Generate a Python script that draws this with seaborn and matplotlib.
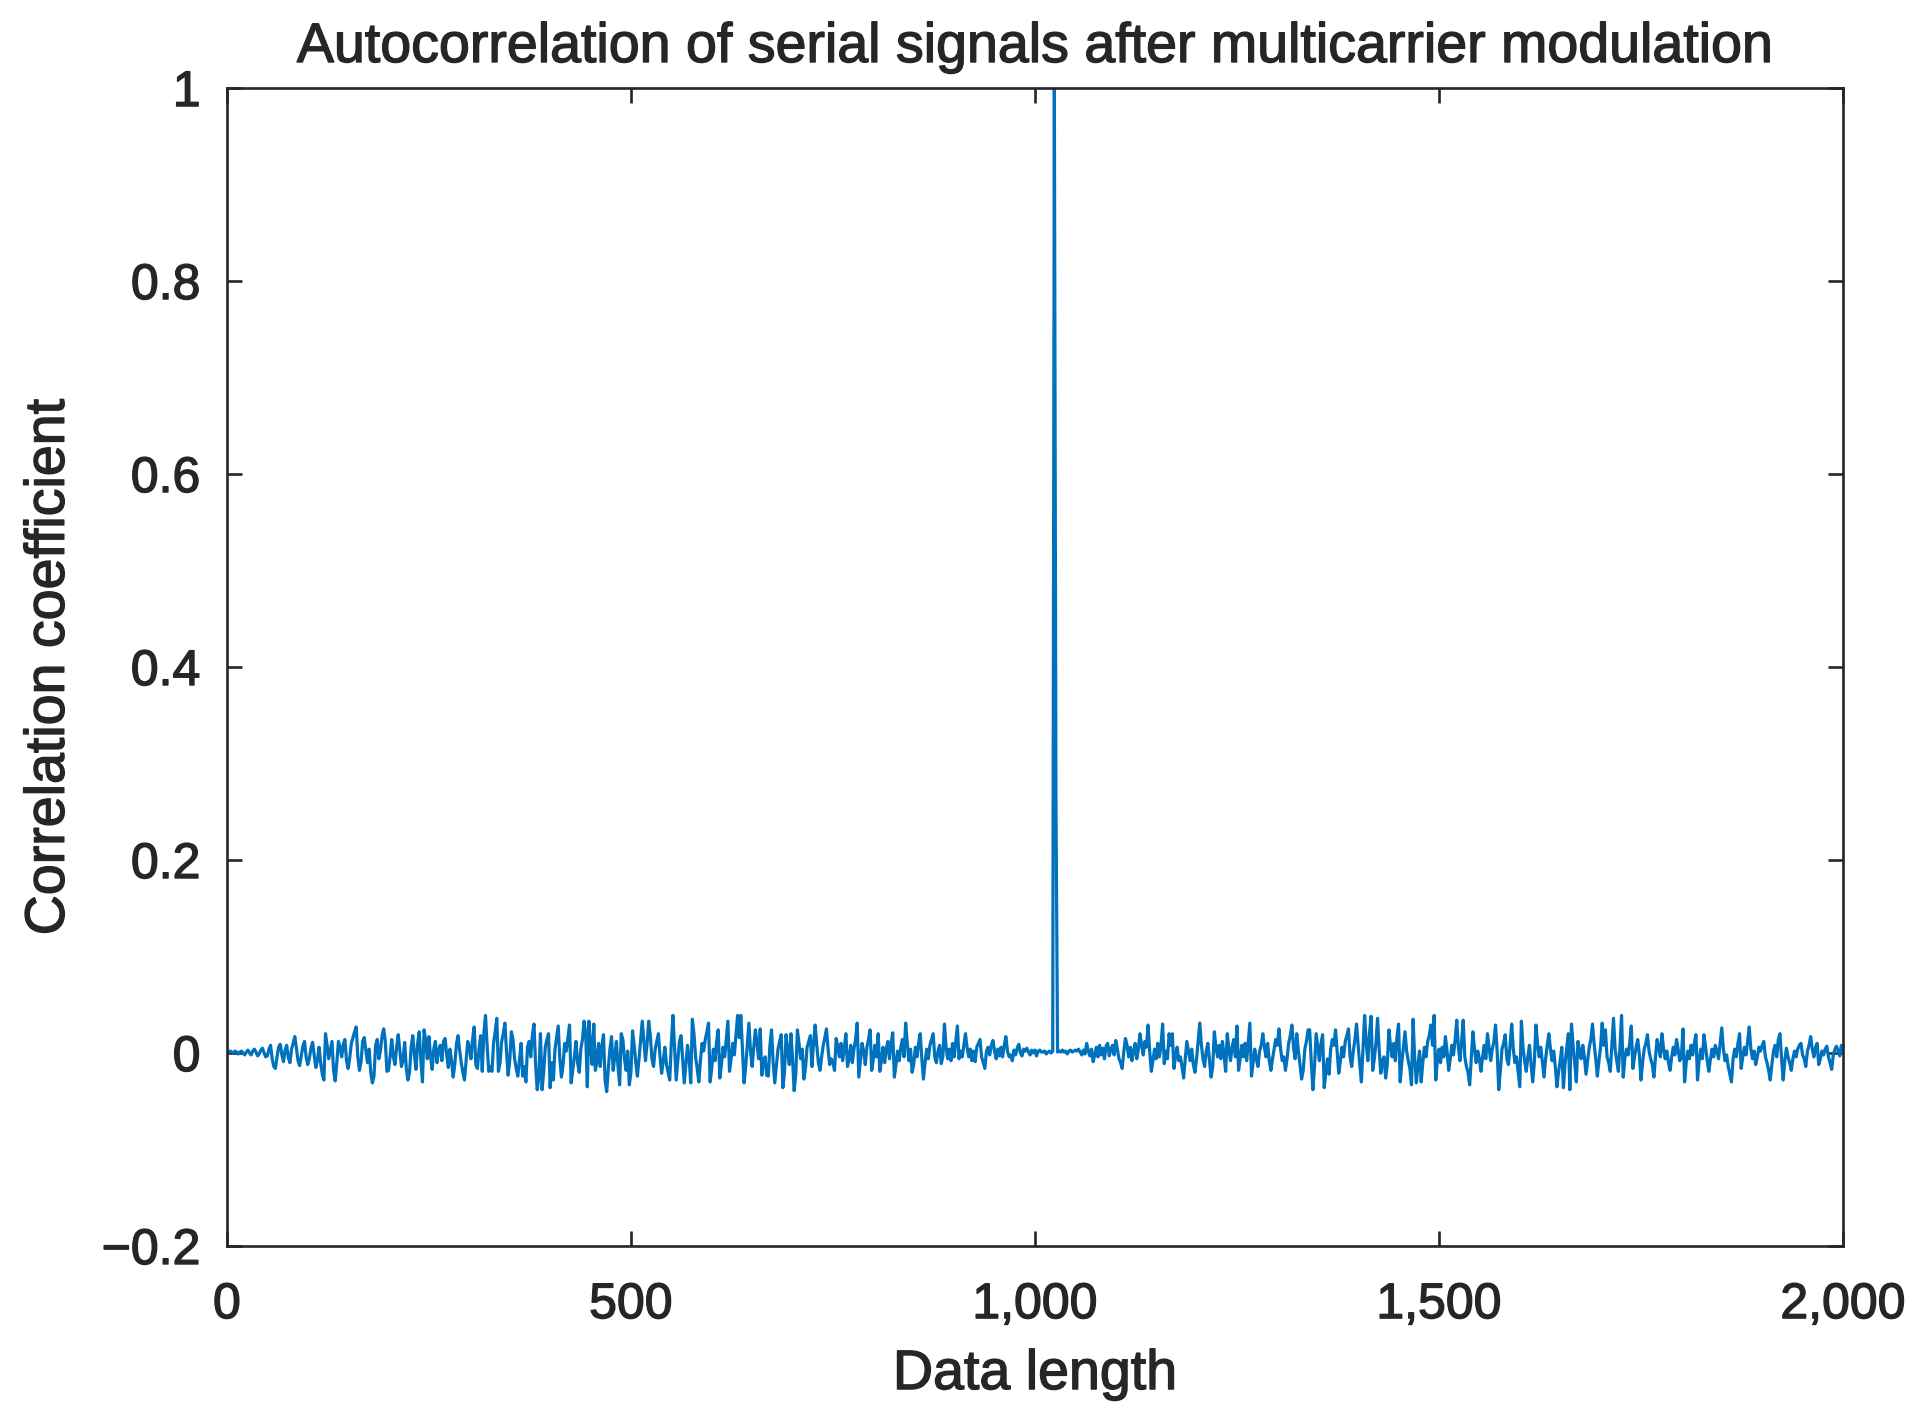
import numpy as np
import pandas as pd
import matplotlib
matplotlib.use("Agg")
import matplotlib.pyplot as plt
import matplotlib.patheffects as pe
import seaborn as sns

title = "Autocorrelation of serial signals after multicarrier modulation"
x_label = "Data length"
y_label = "Correlation coefficient"
x_ticks = [0, 500, 1000, 1500, 2000]
x_tick_labels = ["0", "500", "1,000", "1,500", "2,000"]
y_ticks = [-0.2, 0, 0.2, 0.4, 0.6, 0.8, 1.0]
y_tick_labels = ["\u22120.2", "0", "0.2", "0.4", "0.6", "0.8", "1"]
x_range = (0, 2000)
y_range = (-0.2, 1.0)
sample_step = 2  # every second lag index

# correlation coefficient (in thousandths), lags 0, 2, 4, ... 2046
corr_milli = [
    1, 1, 2, 1, 0, 2, 1, -1, 1, 2, 0, -2, 1, 3, 0, -2, 2, 4, 1, -3, -1, 3, 5, 0, -4,
    -3, 4, 8, -6, -14, -16, -4, 6, 9, -2, -9, 3, 8, -5, -10, 4, 10, 17, 5, -8, -13, -3, 7, 12, -4,
    -12, -6, 5, 11, -2, -15, -8, 6, -10, -22, -28, 20, 8, -6, 3, 12, -18, -29, -10, 12, 6, -4, 9, 14, -8,
    -16, -5, 10, 16, 22, 27, -4, -18, -9, 12, 16, 2, -10, 4, -20, -31, -24, 8, 14, -6, 2, 18, 25, 12, -19,
    -18, -3, 14, -4, -12, 6, 19, 3, -14, -7, 11, -16, -28, -20, 6, 18, -2, -17, 10, 22, -8, -30, 24, 13, -6,
    17, -4, -17, 4, 12, -10, 3, 8, -8, 12, 15, -2, -15, 4, -8, -25, -12, 9, 18, 3, -10, -20, -28, -8, 12,
    6, -6, 14, 27, -12, -16, 4, 18, -19, 21, 39, 8, -19, -14, -19, 10, 22, 36, -19, -10, 12, 20, 31, 2, -23,
    -8, 22, 14, -6, -16, -24, -8, 10, -24, -14, -30, 6, 12, -4, 18, 30, -12, -38, -26, 20, -38, -20, 6, 14, 20,
    -36, -10, -28, 4, 16, 28, -6, -25, -12, 10, 2, 16, 29, -31, -18, -4, 12, -10, -20, 4, 14, 33, 20, -35, 33,
    8, -12, 30, -18, -8, 10, -14, 6, 19, -28, -40, -16, 4, 17, -18, -4, 12, -14, -33, 20, 14, -6, -18, 2, -33,
    -20, 23, 8, -10, -24, -6, 14, 33, 12, -8, 10, 33, 18, -6, -14, 4, 12, 20, -4, -21, -8, 6, -12, -20, -28,
    10, 39, 6, -28, -8, 12, 18, -6, -31, -12, 8, -6, -31, 35, 20, -4, -16, -30, -8, 10, 2, 14, 22, 31, -30,
    -16, 4, -8, 12, 24, -26, -12, 6, -4, 14, 33, -19, -6, 10, -2, 18, 39, 16, 39, 4, -31, -14, 8, 31, 2,
    -14, 6, 24, 10, -6, 25, -23, -8, -4, -23, -24, 8, 24, -10, -31, -14, 4, 12, 19, -36, -20, 19, 2, -12, 20,
    -6, -39, -22, 24, 10, -6, 4, -27, -16, 6, 12, 18, -14, 10, 29, 8, -10, -18, -4, 8, 16, 25, 4, -12, -6,
    -10, -18, 15, 6, -4, 10, -8, 4, 20, -14, -6, 8, -10, 4, 14, 31, -25, -8, 10, 2, -12, 6, 14, 24, -18,
    -6, 8, -4, 20, -19, -8, 6, -10, 4, 12, -6, 10, 21, -25, -12, 2, -8, 6, 14, -4, 31, 10, -8, 4, -20,
    -12, 6, -4, 10, 20, -6, -27, -10, 4, -6, 8, 14, 20, -4, -10, 2, 8, -11, -4, 30, 6, -6, 4, -8, 10,
    -4, 12, 28, -6, 2, -4, 8, 20, 6, -4, 4, -8, 2, -9, 6, 10, 14, -4, -10, -16, 2, 6, -2, 8, 13,
    2, -6, 4, -3, 6, -4, 8, 17, 2, -4, -2, -8, 3, -2, 5, 9, 0, -3, 4, 2, 5, 1, -2, 3, 0,
    3, -3, 2, 3, 1, 1, 2, -1, 1, 2, 0, 2, 1000, 260, 1, 2, 1, 3, 1, 2, -1, 2, 3, 1, 2,
    3, 2, 4, 1, -2, 3, -1, 10, 2, -3, 4, -9, -2, 6, -4, 8, -2, 5, -6, 7, 10, -3, 4, 8, -2,
    13, 4, -6, -10, -16, 2, 15, 8, -4, 6, -8, 2, 10, -6, 4, 20, 8, -2, 12, 6, 29, 2, -19, -8, 4,
    -6, 10, -4, 8, 30, -11, 2, -6, 20, 8, 20, -16, -4, 6, -8, -4, -14, -26, -6, 12, 2, -8, 4, -12, -20,
    -6, 12, 31, 8, -6, -14, 2, 10, -8, -25, -14, 22, 6, -4, 8, -6, 12, -2, -19, 20, 4, -8, 6, 14, -4,
    28, -18, -6, 8, -4, 10, -8, 12, 31, -24, -10, 4, -6, -14, 2, 8, 20, 6, -4, 10, -8, -18, -6, 4, 14,
    8, 25, 4, -8, -4, -18, -6, 10, 18, 29, 6, -6, 20, 2, -12, -27, -18, 4, 12, 24, 24, -10, -38, -14, 20,
    6, -8, 10, 19, -36, -20, -6, -22, 4, 14, 8, 24, 2, -21, -8, 6, -4, 12, 18, 25, -4, -14, 2, 14, 30,
    8, -12, -30, 4, 39, 10, -8, 20, 38, -18, -6, 10, 36, 4, -21, -8, -4, -26, -12, 24, 8, -4, 10, -8, 16,
    30, -30, -10, 6, 22, 2, -8, -16, -33, 35, -6, -31, -12, 2, -30, -10, 6, -4, 12, 18, 29, 8, 39, -28, -8,
    4, -10, 6, -4, 17, 2, -18, -6, 8, -2, 14, 34, 6, -8, 12, 34, -4, -14, -20, -33, -6, 22, 4, -10, 2,
    -6, -19, -4, 8, -6, 20, 6, -8, 4, 12, 29, 2, -38, -18, 4, 10, 19, -6, -12, 8, 30, 4, -10, -4, -20,
    -35, 33, 6, -8, -19, -4, 8, -12, -30, -10, 29, 10, -4, 6, -10, -25, -6, 8, 20, 4, -8, 2, -14, -35, -20,
    -8, 6, -36, -12, 4, 20, -38, 30, 8, -10, -30, 12, 2, -6, 8, -4, -22, -8, 6, 14, 30, 10, -6, -24, -8,
    6, 31, 8, 24, -4, -10, -19, 8, 36, 4, -8, -19, 6, 39, -25, -6, 4, -2, 10, 28, -16, -4, 6, 14, -2,
    -28, -10, 4, 10, 19, 2, -6, -12, -25, -4, 14, 6, -4, 20, 4, -6, 2, -10, -18, -4, 6, -2, 14, 4, -8,
    -4, 25, -30, -10, 2, -6, 8, -2, 10, 19, -28, -8, 4, -6, 19, 6, -8, -19, -6, 4, -4, 8, 2, -6, 10,
    26, 4, -8, -2, -14, -22, -30, -6, 4, -4, 10, 20, -16, -4, 6, -2, 12, 27, 4, -6, 2, -12, -4, 6, 2,
    8, 12, -4, -10, -18, -28, -12, 2, 8, -4, 14, 20, -6, -28, -8, 5, -4, -10, -18, -6, 2, -4, 4, 8, 10,
    -2, -6, -14, 2, 8, 17, 4, -4, 6, 10, -12, -6, 2, -2, 4, 7, -4, -10, -17, -2, 4, 7, 2, -3, 8,
    6, -2, 4, -6, 3, 5, -2, 2, -4, 3, 1, -3, 2, 3, -1, 2, -2, 1, 2, 0, 1, -1, 1, 0,
]

df = pd.DataFrame({
    "lag": np.arange(len(corr_milli)) * sample_step,
    "corr": np.array(corr_milli, dtype=float) / 1000.0,
})

sns.set_theme(style="ticks")
plt.rcParams["font.family"] = ["Liberation Sans", "DejaVu Sans"]
text_color = "#262626"
plt.rcParams["text.color"] = text_color
plt.rcParams["axes.labelcolor"] = text_color
plt.rcParams["xtick.color"] = text_color
plt.rcParams["ytick.color"] = text_color

heavy = [pe.withStroke(linewidth=1.0, foreground=text_color)]

fig = plt.figure(figsize=(19.28, 14.18), dpi=100)
ax = fig.add_axes([0.1177, 0.1213, 0.8382, 0.8166])

sns.lineplot(data=df, x="lag", y="corr", color="#0072BD", linewidth=2.3,
             ax=ax, estimator=None, sort=False)

ax.set_xlim(*x_range)
ax.set_ylim(*y_range)
ax.set_xticks(x_ticks)
ax.set_xticklabels(x_tick_labels)
ax.set_yticks(y_ticks)
ax.set_yticklabels(y_tick_labels)

for sp in ax.spines.values():
    sp.set_visible(True)
    sp.set_linewidth(1.9)
    sp.set_color(text_color)

ax.tick_params(axis="both", which="major", direction="in", length=11, width=1.9,
               top=True, right=True, labelsize=36, colors=text_color)
ax.tick_params(axis="x", pad=26)
ax.tick_params(axis="y", pad=19)
for lab in ax.get_xticklabels() + ax.get_yticklabels():
    lab.set_path_effects(heavy)

ax.set_xlabel(x_label, fontsize=40, path_effects=heavy)
ax.set_ylabel(y_label, fontsize=40, path_effects=heavy)
ax.xaxis.set_label_coords(0.5, -0.089)
ax.yaxis.set_label_coords(-0.0935, 0.5)
ax.set_title(title, fontsize=40, y=1.0225, pad=0, path_effects=heavy)

fig.savefig("out.png", dpi=100, facecolor="white")
